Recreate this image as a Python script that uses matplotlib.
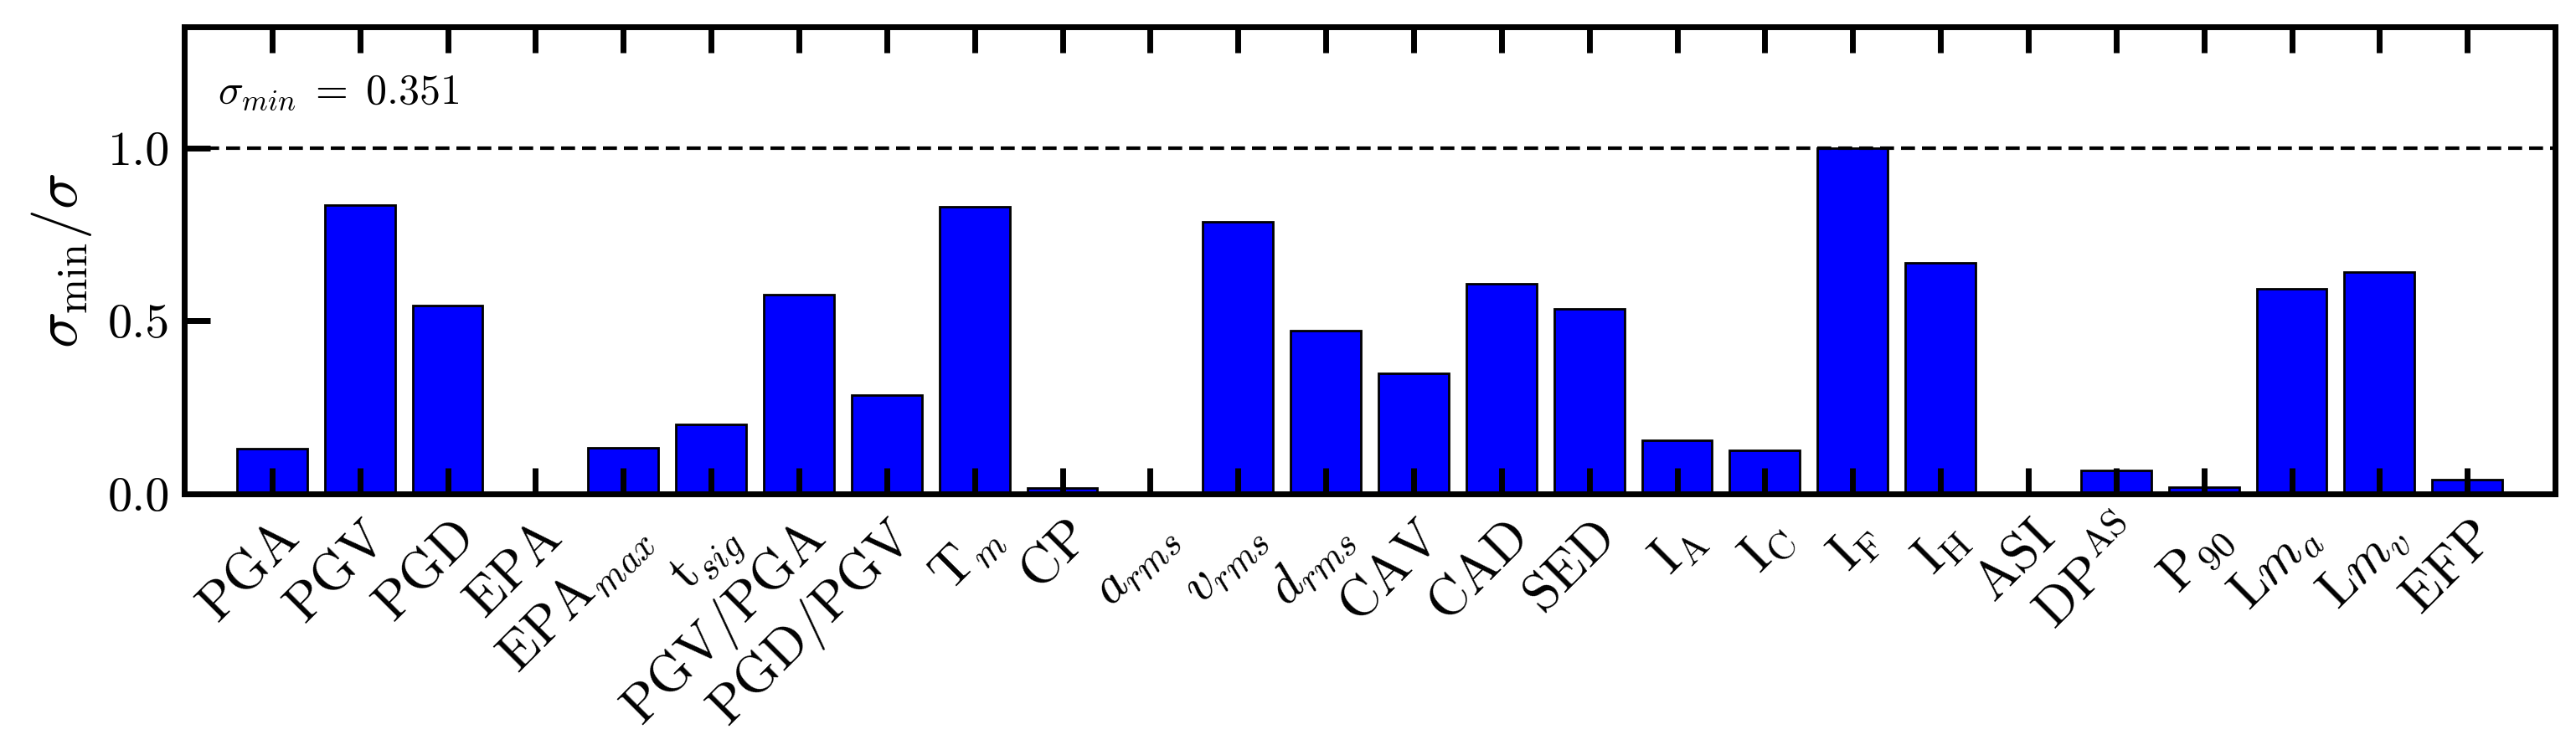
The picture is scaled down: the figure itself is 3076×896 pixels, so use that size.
import matplotlib
matplotlib.use("Agg")
import matplotlib.pyplot as plt
import numpy as np

######### Data #########
labels = [
    r'$\mathrm{PGA}$', r'$\mathrm{PGV}$', r'$\mathrm{PGD}$', r'$\mathrm{EPA}$',
    r'$\mathrm{EPA_{\mathit{max}}}$', r'$\mathrm{t_{\mathit{sig}}}$', r'$\mathrm{PGV/PGA}$',
    r'$\mathrm{PGD/PGV}$', r'$\mathrm{T_{\mathit{m}}}$', r'$\mathrm{CP}$',
    r'$a_{rms}$', r'$v_{rms}$', r'$d_{rms}$', r'$\mathrm{CAV}$', r'$\mathrm{CAD}$',
    r'$\mathrm{SED}$', r'$\mathrm{I_A}$', r'$\mathrm{I_C}$',
    r'$\mathrm{I_F}$', r'$\mathrm{I_H}$', r'$\mathrm{ASI}$',
    r'$\mathrm{DP^{AS}}$', r'$\mathrm{P_{90}}$', r'$\mathrm{L}m_{a}$',
    r'$\mathrm{L}m_{v}$', r'$\mathrm{EFP}$',
]
ratio = [
    0.130, 0.834, 0.545, 0.0, 0.133, 0.202, 0.575, 0.285, 0.831, 0.016,
    0.0, 0.786, 0.471, 0.348, 0.608, 0.535, 0.154, 0.125, 1.000, 0.668,
    0.0, 0.068, 0.019, 0.592, 0.641, 0.040,
]
yticks = [0.0, 0.5, 1.0]
sigma_min = 0.351

######### Plot #########
plt.rcParams['mathtext.fontset'] = 'cm'
plt.rcParams['font.family'] = 'serif'
plt.rcParams['font.serif'] = ['cmr10']
plt.rcParams['axes.formatter.use_mathtext'] = True

fig = plt.figure(figsize=(15.38, 4.48), dpi=200)
ax = fig.add_axes([0.0715, 0.3415, 0.9204, 0.6228])

x = np.arange(len(labels))
ax.bar(x, ratio, width=0.8, color='#0000ff', edgecolor='black', linewidth=1.0)
ax.axhline(1.0, color='black', linestyle='--', linewidth=1.5, dashes=(4, 2))

ax.set_xlim(-1, len(labels))
ax.set_ylim(0, 1.35)
ax.set_xticks(x)
ax.set_xticklabels([])
ax.set_yticks(yticks)
ax.set_yticklabels(['%.1f' % t for t in yticks], fontsize=21)

ax.tick_params(axis='x', which='major', direction='in', top=True, bottom=True,
               length=11, width=2.5)
ax.tick_params(axis='y', which='major', direction='in', left=True, right=False,
               length=11, width=2.5, pad=6)
for s in ax.spines.values():
    s.set_linewidth(2.5)

# rotated category labels, baseline ending a little right of each tick
xtrans = ax.get_xaxis_transform()
for xi, lab in zip(x, labels):
    ax.text(xi + 0.33, -0.10, lab, transform=xtrans, rotation=45,
            rotation_mode='anchor', ha='right', va='baseline', fontsize=23,
            clip_on=False)

ax.set_ylabel(r'$\sigma_{\mathrm{min}}/\sigma$', fontsize=26, labelpad=6)
ax.text(0.014, 0.86, r'$\sigma_{min}\;=\;%.3f$' % sigma_min, transform=ax.transAxes,
        fontsize=18, va='center', ha='left')

fig.savefig('out.png', dpi=200)
